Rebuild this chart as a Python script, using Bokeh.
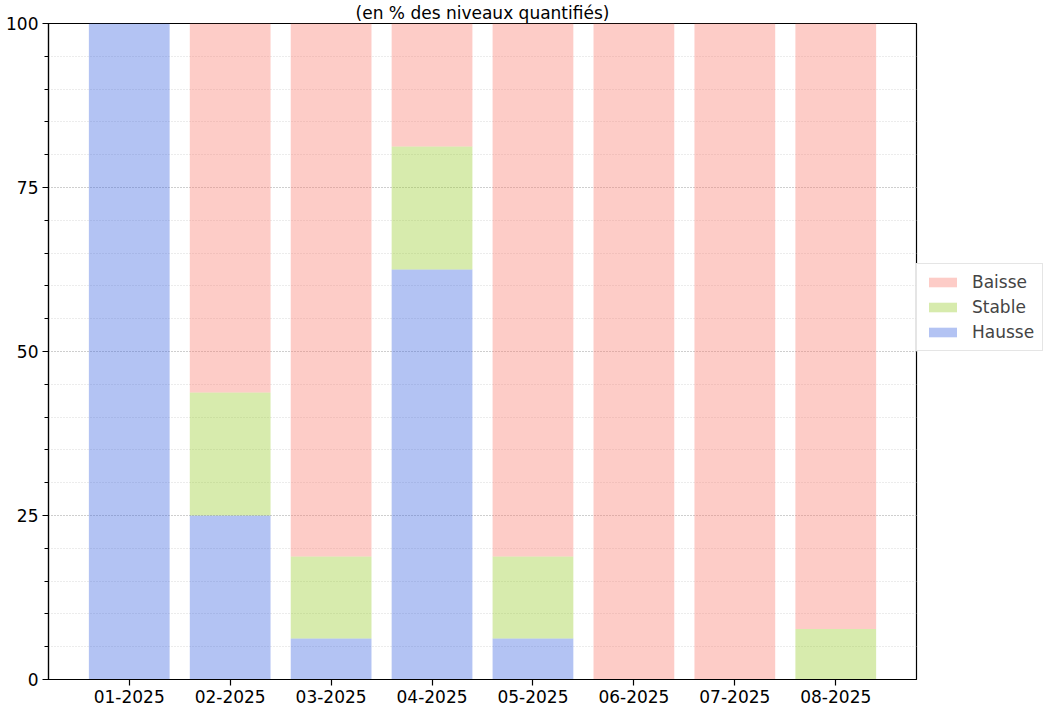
from bokeh.plotting import figure
from bokeh.models import (ColumnDataSource, Range1d, FixedTicker, Legend, LegendItem)
from bokeh.embed import file_html
from bokeh.resources import INLINE

months = ["01-2025", "02-2025", "03-2025", "04-2025", "05-2025", "06-2025", "07-2025", "08-2025"]
hausse = [100, 25, 6.25, 62.5, 6.25, 0, 0, 0]
stable = [0, 18.75, 12.5, 18.75, 12.5, 0, 0, 7.69]
baisse = [0, 56.25, 81.25, 18.75, 81.25, 100, 100, 92.31]
series = ["Hausse", "Stable", "Baisse"]
colors = ["#4169e1", "#9acd32", "#fa8072"]
title_text = "(en % des niveaux quantifiés)"

FONT = "DejaVu Sans"
xs = list(range(len(months)))
source = ColumnDataSource(dict(x=xs, Hausse=hausse, Stable=stable, Baisse=baisse))

p = figure(frame_width=868, frame_height=656, output_backend="svg", toolbar_location=None,
           x_range=Range1d(-0.8, len(months) - 0.2), y_range=Range1d(0, 100),
           min_border_left=48, min_border_top=2, min_border_bottom=10, min_border_right=0)
p.background_fill_color = "white"
p.border_fill_color = "white"
p.outline_line_color = "black"
p.outline_line_width = 1.2

p.title.text = title_text
p.title.align = "center"
p.title.text_font = FONT
p.title.text_font_size = "17px"
p.title.text_font_style = "normal"
p.title.text_color = "black"
p.title.standoff = 1

renderers = p.vbar_stack(series, x="x", width=0.8, source=source,
                         fill_color=colors, fill_alpha=0.4, line_color=None)

# axes
p.xaxis.ticker = FixedTicker(ticks=xs)
p.xaxis.major_label_overrides = {i: m for i, m in enumerate(months)}
p.yaxis.ticker = FixedTicker(ticks=[0, 25, 50, 75, 100],
                             minor_ticks=list(range(0, 101, 5)))
for ax in (p.xaxis[0], p.yaxis[0]):
    ax.major_label_text_font = FONT
    ax.major_label_text_font_size = "17px"
    ax.major_label_text_color = "black"
    ax.axis_line_color = "black"
    ax.axis_line_width = 1.2
    ax.major_tick_line_color = "black"
    ax.major_tick_line_width = 1.2
    ax.major_tick_out = 6
    ax.major_tick_in = 0
    ax.minor_tick_line_color = "black"
    ax.minor_tick_out = 4
    ax.minor_tick_in = 0
    ax.major_label_standoff = 4
p.xaxis.minor_tick_line_color = None

p.xgrid.grid_line_color = None
p.ygrid.grid_line_color = "#b0b0b0"
p.ygrid.grid_line_dash = "1 2"
p.ygrid.grid_line_width = 1
p.ygrid.minor_grid_line_color = "#d8d8d8"
p.ygrid.minor_grid_line_dash = "1 2"
p.ygrid.minor_grid_line_width = 1

items = [LegendItem(label=series[i], renderers=[renderers[i]]) for i in (2, 1, 0)]
legend = Legend(items=items, location=(0, 328), orientation="vertical",
                label_text_font=FONT, label_text_font_size="17px",
                glyph_width=35, glyph_height=12, label_height=20, spacing=5,
                label_standoff=12, padding=8, margin=9,
                border_line_color="#cccccc", border_line_width=1,
                background_fill_color="white", background_fill_alpha=1.0)
p.add_layout(legend, "right")

open("out.html", "w").write(file_html(p, INLINE))
